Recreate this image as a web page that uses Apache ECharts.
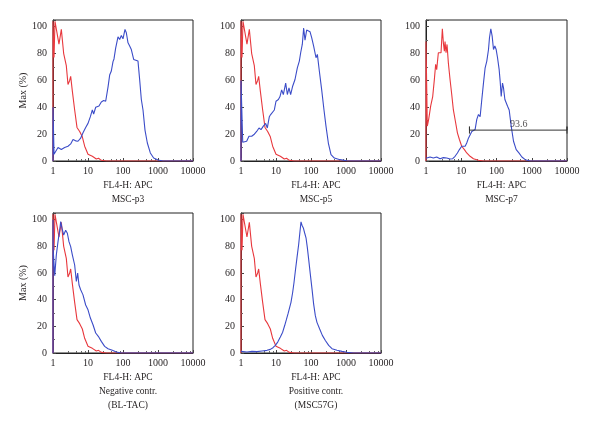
<!DOCTYPE html>
<html>
<head>
<meta charset="utf-8">
<script src="https://cdn.jsdelivr.net/npm/echarts@6/dist/echarts.min.js"></script>
<style>html,body{margin:0;padding:0;background:#fff;}#c{width:600px;height:433px;}</style>
</head>
<body>
<div id="c"></div>
<script>
// ---- Data ----
const panelNames = ['MSC-p3', 'MSC-p5', 'MSC-p7', 'Negative contr.', 'Positive contr.'];
const panelSub2 = ['', '', '', '(BL-TAC)', '(MSC57G)'];
const xAxisTitle = 'FL4-H: APC';
const yAxisTitle = 'Max (%)';
const xTicks = [1, 10, 100, 1000, 10000];
const yTicks = [0, 20, 40, 60, 80, 100];

// Isotype control (red) used in MSC-p3, MSC-p5, Negative and Positive panels
const isoX = [1,1,1.07,1.14,1.25,1.48,1.73,2.02,2.40,2.68,2.99,3.2,3.57,4.16,4.85,5.78,6.89,8.03,10,13.3,17.3,20,24,33.4,10000];
const isoY = [0,104,77,104,98,87,98,80,71,57,60,63,52,38,25,22,18,11,5,3.5,1.5,2,0.5,0,0];

// MSC-p3 (blue)
const p3X = [1,1,1.07,1.19,1.39,1.55,1.73,2.15,2.68,3.2,3.73,4.44,5.18,6.17,7.2,8.58,10,11.7,13.3,14.5,16.6,20.6,24,28,32,37.3,41.6,46.4,51.8,55.3,61.7,72,80.3,89.6,100,114,124.5,139,155,173,202,230,268,299,334,373,425,496,604,752,1000,1389,10000];
const p3Y = [0,40,5,6,10,11,8.5,10,11,12.7,16,15,14.7,17,21,25,28,33,38,35,40,41,44,45,44.5,55,64,67,74,76,84,92.5,90.5,93.5,91,98,95.5,88,85.6,83,75.6,77,74.4,60.7,45.8,38,23,13.4,6,2.2,0.7,0,0];

// MSC-p5 (blue)
const p5X = [1,1,1.12,1.245,1.45,1.69,2.02,2.35,2.80,3.27,3.73,4.35,5.07,5.65,6.45,7.04,8.03,8.96,10,11.7,13,14.5,16.2,18.9,21.1,23.5,26.2,29.9,34.9,40.7,46.4,50.7,56.5,61.7,67.4,75.2,83.9,93.6,104.5,119,130,139,152,173,202,235,268,313,373,464,674,1045,1620,10000];
const p5Y = [0,60,14,13.4,14.7,18.4,18.4,19.7,22,24.6,23.4,26,28,24.6,33,34.6,34.6,38,44.5,45.8,48,53,49.5,58,49.5,54.5,49.5,55.7,60.7,69.4,74.4,80.6,87,99,90,97.5,98.5,96.3,91.8,85.6,86.8,76.9,79.4,67,53,38,26,13.4,4.7,2.2,1,0.2,0,0];

// MSC-p7 (red control and blue)
const p7RedX = [1,1,1.09,1.19,1.36,1.55,1.73,1.88,2.01,2.24,2.50,2.67,2.91,3.11,3.32,3.47,3.70,3.95,4.31,4.81,5.37,5.98,6.82,7.78,8.87,10.3,12.3,14.3,17.8,22.2,30.8,42.7,10000];
const p7RedY = [0,89,26,31,41,48,61,72,68,80.6,81.8,80.6,98.5,88,81.8,89,80.6,86.8,73,60.7,49.5,38,29.6,21,16,11,8.5,6,3.5,1.7,0.5,0,0];
const p7X = [1,1.04,1.30,1.62,2.01,2.50,3.11,3.87,4.81,5.73,6.68,7.78,8.87,10.3,11.5,12.9,14.3,16.0,17.8,19.9,22.2,24.7,27.6,30.8,34.3,38.3,42.7,47.6,53.1,59.3,63.2,69.0,75.3,82.2,89.7,97.9,107,119,127,136,148,158,173,188,206,229,261,304,362,432,525,653,906,10000];
const p7Y = [2,2.2,3,2.2,3,1.7,2.5,2.2,1.5,1.7,3.5,6,8.5,11,12,11,13.4,17,18.4,22,21,23.4,31,34.6,33,45.8,58,69.4,74.4,83,91.8,98.5,93,83,85.6,83,76.9,68,59.5,48,58,54.5,45.8,47,40.8,38,26,14.7,8.5,6,3,1,0,0];

// Negative control (blue)
const negX = [1,1,1.02,1.12,1.245,1.39,1.55,1.66,1.81,2.02,2.30,2.57,2.86,3.20,3.57,4.16,4.64,5.07,5.53,6.17,7.2,8.58,10,11.7,13.9,16.6,19.7,24,29.9,37.3,49.6,64.5,89.6,10000];
const negY = [0,100,76,58,73.6,83.5,92,98.5,93.5,88.5,92,89.8,83.5,79.8,73.6,66,53.6,59.9,51,47.4,43.6,36,32.4,26.2,21.2,15,12.5,8.7,5,3.2,2,0.7,0,0];

// Positive control (blue)
const posX = [1,1.07,1.48,2.06,2.86,3.98,5.53,6.89,8.2,9.57,11.2,13.3,15.5,17.7,19.7,22,24.6,26.8,29.9,32.7,35.7,39.8,44.4,48.5,51.8,55.3,60.4,65.9,72,78.6,85.8,95.7,107,119,133,148,177,211,257,320,398,553,769,1069,1656,10000];
const posY = [1.2,1.2,0.7,1.2,1,1.5,2,2.7,4,5.7,8.2,12,15.6,20.6,24.8,29.3,34.2,38,45.4,52.9,61.5,71.5,81.4,91.3,98.3,95.8,93.8,90,86.4,79,70.2,59,47.9,36.7,28,23,18,13.2,9.4,5.7,3.2,2,1.2,0.5,0,0];

// Gate on MSC-p7
const gateStart = 17.1, gateEnd = 10000, gateLevel = 23, gateLabel = '93.6', gateLabelX = 430;

// ---- Build ----
const zip = (xs, ys) => xs.map((x, i) => [x, ys[i]]);
const panels = [
  { red: zip(isoX, isoY), blue: zip(p3X, p3Y) },
  { red: zip(isoX, isoY), blue: zip(p5X, p5Y) },
  { red: zip(p7RedX, p7RedY), blue: zip(p7X, p7Y) },
  { red: zip(isoX, isoY), blue: zip(negX, negY) },
  { red: zip(isoX, isoY), blue: zip(posX, posY) }
];

const FONT = '"Liberation Serif", "Times New Roman", serif';
const TXT = '#231f20';
const RED = '#e8383d';
const BLUE = '#3b4cc8';

const grids = [
  { left: 53, top: 20, width: 140, height: 141 },
  { left: 241, top: 20, width: 140, height: 141 },
  { left: 426, top: 20, width: 141, height: 141 },
  { left: 53, top: 213, width: 140, height: 140 },
  { left: 241, top: 213, width: 140, height: 140 }
].map(g => Object.assign(g, { show: true, borderColor: '#222', borderWidth: 1, backgroundColor: 'transparent' }));

const xAxes = grids.map((g, i) => ({
  type: 'log', logBase: 10, min: xTicks[0], max: xTicks[xTicks.length - 1], gridIndex: i,
  axisLine: { show: true, lineStyle: { color: '#222', width: 1 } },
  axisTick: { show: true, inside: true, length: 3, lineStyle: { color: '#444' } },
  minorTick: { show: true, splitNumber: 5, length: 2, lineStyle: { color: '#666' } },
  splitLine: { show: false },
  axisLabel: { fontFamily: FONT, fontSize: 10, color: TXT, margin: 5,
    formatter: v => xTicks.includes(Math.round(v)) ? String(Math.round(v)) : '' }
}));

const yAxes = grids.map((g, i) => ({
  type: 'value', min: 0, max: 105, interval: 20, gridIndex: i,
  name: (i === 0 || i === 3) ? yAxisTitle : '',
  nameLocation: 'middle', nameGap: 22,
  nameTextStyle: { fontFamily: FONT, fontSize: 10, color: TXT },
  axisLine: { show: true, lineStyle: { color: '#222', width: 1 } },
  axisTick: { show: true, inside: true, length: 3, lineStyle: { color: '#444' } },
  minorTick: { show: true, splitNumber: 2, length: 2, lineStyle: { color: '#666' } },
  splitLine: { show: false },
  axisLabel: { fontFamily: FONT, fontSize: 10, color: TXT, margin: 6,
    formatter: v => yTicks.includes(v) ? String(v) : '' }
}));

const series = [];
panels.forEach((p, i) => {
  series.push({ type: 'line', xAxisIndex: i, yAxisIndex: i, data: p.red, showSymbol: false, symbol: 'none',
    lineStyle: { color: RED, width: 1.1 }, itemStyle: { color: RED }, z: 2, animation: false, silent: true });
  series.push({ type: 'line', xAxisIndex: i, yAxisIndex: i, data: p.blue, showSymbol: false, symbol: 'none',
    lineStyle: { color: BLUE, width: 1.1 }, itemStyle: { color: BLUE }, z: 3, animation: false, silent: true });
});
// gate bar with end caps
const capHalf = 2.6;
series.push({ type: 'line', xAxisIndex: 2, yAxisIndex: 2, showSymbol: false, symbol: 'none', animation: false, silent: true, z: 4,
  lineStyle: { color: '#333', width: 1 },
  data: [[gateStart, gateLevel - capHalf], [gateStart, gateLevel + capHalf], [gateStart, gateLevel],
         [gateEnd, gateLevel], [gateEnd, gateLevel + capHalf], [gateEnd, gateLevel - capHalf]] });
series.push({ type: 'scatter', xAxisIndex: 2, yAxisIndex: 2, symbolSize: 0, animation: false, silent: true, z: 5,
  data: [[gateLabelX, gateLevel]],
  label: { show: true, position: 'top', distance: 1, formatter: gateLabel, fontFamily: FONT, fontSize: 10, color: TXT } });

// titles under each panel
const graphic = [];
grids.forEach((g, i) => {
  const cx = g.left + g.width / 2 + 5;
  const base = g.top + g.height;
  const lines = [xAxisTitle, panelNames[i]];
  if (panelSub2[i]) lines.push(panelSub2[i]);
  lines.forEach((t, k) => {
    graphic.push({ type: 'text', silent: true, style: {
      text: t, x: cx, y: base + 24 + k * 14.3, textAlign: 'center', textVerticalAlign: 'middle',
      font: '9.5px ' + FONT, fill: TXT } });
  });
});

const chart = echarts.init(document.getElementById('c'), null, { renderer: 'canvas' });
chart.setOption({
  backgroundColor: '#fff', animation: false,
  grid: grids, xAxis: xAxes, yAxis: yAxes, series: series, graphic: graphic
});
</script>
</body>
</html>
